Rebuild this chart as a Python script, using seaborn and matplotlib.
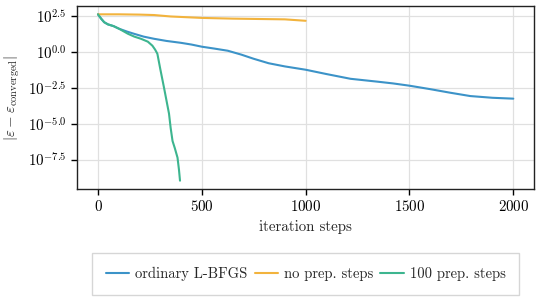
import numpy as np
import pandas as pd
import matplotlib
matplotlib.use("Agg")
import matplotlib.pyplot as plt
from matplotlib.ticker import FuncFormatter, MultipleLocator
import seaborn as sns

# log10 |eps - eps_converged|
lbfgs_steps = [0, 15, 30, 48, 75, 101, 140, 173, 220, 270, 330, 399, 450, 500, 560, 625,
               690, 750, 822, 900, 1000, 1100, 1216, 1346, 1420, 1500, 1600, 1697, 1793, 1900, 2000]
lbfgs_err = [2.6, 2.3, 2.05, 1.9, 1.78, 1.6, 1.4, 1.25, 1.05, 0.9, 0.75, 0.62, 0.5, 0.35, 0.22, 0.07,
             -0.2, -0.49, -0.8, -1.02, -1.25, -1.55, -1.88, -2.08, -2.2, -2.36, -2.6, -2.85, -3.08, -3.2, -3.26]

noprep_steps = [0, 100, 200, 270, 350, 500, 650, 800, 900, 1000]
noprep_err = [2.6, 2.6, 2.58, 2.55, 2.45, 2.35, 2.3, 2.27, 2.25, 2.15]

prep_steps = [0, 15, 30, 48, 75, 101, 144, 175, 207, 240, 262, 275, 286, 300, 318, 330, 342,
              350, 359, 370, 383, 390, 395]
prep_err = [2.6, 2.3, 2.05, 1.9, 1.78, 1.6, 1.25, 1.05, 0.9, 0.7, 0.42, 0.15, -0.14, -1.2, -2.5,
            -3.4, -4.3, -5.3, -6.2, -6.7, -7.36, -8.2, -8.96]

labels = ["ordinary L-BFGS", "no prep. steps", "100 prep. steps"]
colors = ["#3C93C8", "#F2B33D", "#3DB58F"]

df = pd.concat([
    pd.DataFrame({"step": lbfgs_steps, "err": lbfgs_err, "run": labels[0]}),
    pd.DataFrame({"step": noprep_steps, "err": noprep_err, "run": labels[1]}),
    pd.DataFrame({"step": prep_steps, "err": prep_err, "run": labels[2]}),
])

sns.set_style("ticks")
plt.rcParams["font.family"] = "serif"
plt.rcParams["font.serif"] = ["cmr10", "DejaVu Serif"]
plt.rcParams["mathtext.fontset"] = "cm"
plt.rcParams["axes.formatter.use_mathtext"] = True
plt.rcParams["font.size"] = 10.8

fig = plt.figure(figsize=(5.4, 3.0), dpi=100)
ax = fig.add_axes([0.143, 0.37, 0.846, 0.61])
sns.lineplot(data=df, x="step", y="err", hue="run", palette=colors, sort=False,
             linewidth=1.5, ax=ax, legend=True)

ax.grid(True, color="#e0e0e0", linewidth=0.9)
ax.set_axisbelow(True)
ax.yaxis.set_major_locator(MultipleLocator(2.5))
ax.yaxis.set_major_formatter(FuncFormatter(lambda v, _: rf"$10^{{{v:.1f}}}$"))
ax.xaxis.set_major_locator(MultipleLocator(500))
ax.set_xlabel("iteration steps", fontsize=10.8)
ax.set_ylabel(r"$|\varepsilon - \varepsilon_{\mathrm{converged}}|$", fontsize=10.8)
ax.tick_params(labelsize=10.8, length=4, width=1, colors="black")
for s in ax.spines.values():
    s.set_linewidth(1.0)
    s.set_color("#222222")

handles, lbls = ax.get_legend_handles_labels()
ax.get_legend().remove()
fig.legend(handles, lbls, loc="center", bbox_to_anchor=(0.566, 0.088), ncol=3,
           fontsize=10.5, frameon=True, fancybox=False, edgecolor="#cccccc",
           handlelength=1.6, columnspacing=0.5, handletextpad=0.4,
           borderpad=0.95)

fig.savefig("out.png", dpi=100)
